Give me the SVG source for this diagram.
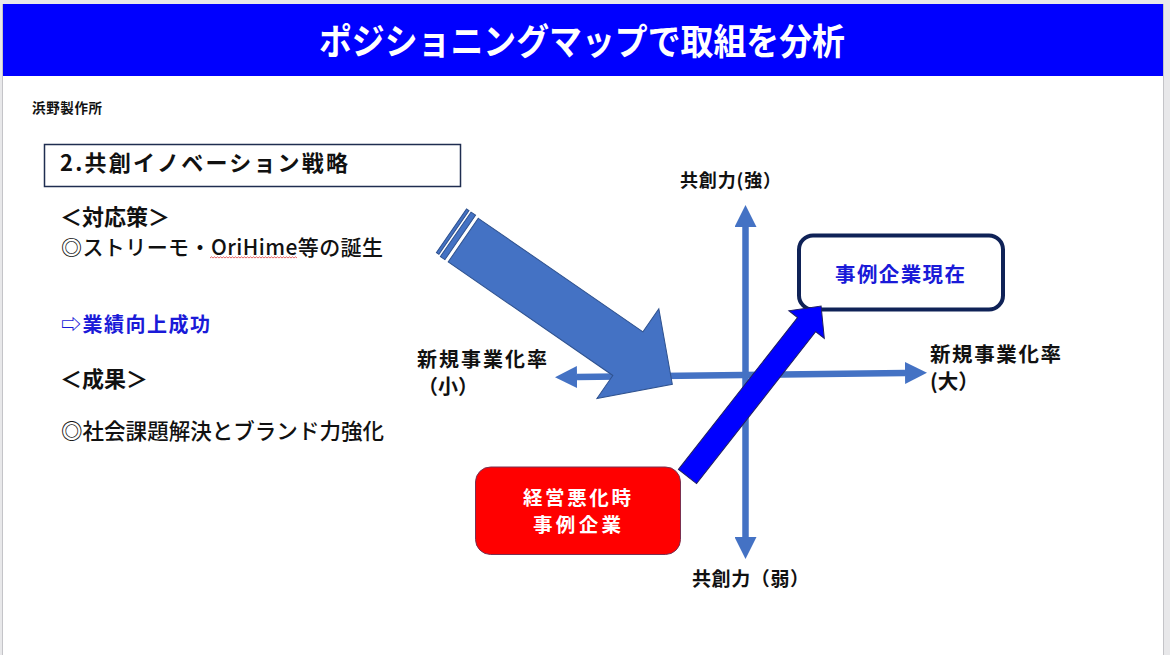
<svg xmlns="http://www.w3.org/2000/svg" width="1170" height="655" viewBox="0 0 1170 655">
<style>
.jp{font-family:"Noto Sans CJK JP","Noto Sans",sans-serif;fill:#111}
.b{font-weight:700}
.m{font-weight:500}
.axis{stroke:#4472c4;stroke-width:6.5;fill:none}
</style>
<defs>
<marker id="ah" viewBox="0 0 22 22" refX="0" refY="11" markerWidth="22" markerHeight="22" markerUnits="userSpaceOnUse" orient="auto-start-reverse">
<path d="M0,0 L22,11 L0,22 z" fill="#4472c4"/>
</marker>
</defs>
<rect x="0" y="0" width="1170" height="655" fill="#e8e8ea"/>
<rect x="3" y="4" width="1160" height="651" fill="#ffffff"/>
<line x1="1163.5" y1="4" x2="1163.5" y2="655" stroke="#c4c4c8" stroke-width="1"/>
<line x1="2.5" y1="4" x2="2.5" y2="655" stroke="#c4c4c8" stroke-width="1"/>
<g id="title">
<rect x="3" y="4" width="1160" height="72" fill="#0000ff"/>
<text x="319" y="55" class="jp b" style="fill:#fff" font-size="36" textLength="526" lengthAdjust="spacingAndGlyphs">ポジショニングマップで取組を分析</text>
</g>
<g id="company"><text x="32" y="113" class="jp b" font-size="13.5" textLength="70">浜野製作所</text></g>
<g id="heading">
<rect x="44.5" y="144.5" width="416" height="42" fill="#fff" stroke="#1f2d50" stroke-width="1.5"/>
<text x="60" y="170.5" class="jp b" font-size="22" textLength="288">2.共創イノベーション戦略</text>
</g>
<g id="left-text">
<text x="60" y="225" class="jp b" font-size="22">＜対応策＞</text>
<text x="61" y="255" class="jp m" font-size="21" textLength="322">◎ストリーモ・OriHime等の誕生</text>
<polyline points="210,258 211.5,256.8 213,258 214.5,256.8 216,258 217.5,256.8 219,258 220.5,256.8 222,258 223.5,256.8 225,258 226.5,256.8 228,258 229.5,256.8 231,258 232.5,256.8 234,258 235.5,256.8 237,258 238.5,256.8 240,258 241.5,256.8 243,258 244.5,256.8 246,258 247.5,256.8 249,258 250.5,256.8 252,258 253.5,256.8 255,258 256.5,256.8 258,258 259.5,256.8 261,258 262.5,256.8 264,258 265.5,256.8 267,258 268.5,256.8 270,258 271.5,256.8 273,258 274.5,256.8 276,258 277.5,256.8 279,258 280.5,256.8 282,258 283.5,256.8 285,258 286.5,256.8 288,258 289.5,256.8 291,258 292.5,256.8 294,258 295.5,256.8 297,258" fill="none" stroke="#e04040" stroke-width="0.8"/>
<text x="61" y="332" class="jp b" font-size="20" style="fill:#1a1ad8" textLength="149">⇨業績向上成功</text>
<text x="60" y="387" class="jp b" font-size="22">＜成果＞</text>
<text x="61" y="438.5" class="jp m" font-size="21.5" textLength="323">◎社会課題解決とブランド力強化</text>
</g>
<g id="connectors">
<line class="axis" x1="745.5" y1="227" x2="745.5" y2="537" marker-start="url(#ah)" marker-end="url(#ah)"/>
<line class="axis" x1="577" y1="377" x2="905" y2="373" marker-start="url(#ah)" marker-end="url(#ah)"/>
</g>
<g id="axis-labels">
<text x="680" y="187" class="jp b" font-size="18" textLength="101">共創力(強）</text>
<text x="692" y="586" class="jp b" font-size="19" textLength="117">共創力（弱）</text>
<text x="417" y="367" class="jp b" font-size="20" textLength="130">新規事業化率</text>
<text x="418" y="393.5" class="jp b" font-size="20">（小）</text>
<text x="930" y="361.5" class="jp b" font-size="20.5" textLength="131">新規事業化率</text>
<text x="930" y="389" class="jp b" font-size="20.5">(大）</text>
</g>
<g id="big-arrow" transform="translate(478.3,218.3) rotate(34.6)" fill="#4472c4" stroke="#2f528f" stroke-width="1">
<rect x="-15" y="-1" width="3" height="53"/>
<rect x="-9.5" y="-1" width="5.5" height="54"/>
<polygon points="0,0 200,0 200,-28 254,26.5 200,81 200,53 0,53"/>
</g>
<g id="node-current">
<rect x="799" y="235.5" width="204" height="74" rx="14" fill="#fff" stroke="#0f2257" stroke-width="4"/>
<text x="835" y="282" class="jp b" font-size="20.5" textLength="130" style="fill:#1a1ad8">事例企業現在</text>
</g>
<g id="node-crisis">
<rect x="475.5" y="467" width="205" height="87.5" rx="15" fill="#ff0000" stroke="#7a3050" stroke-width="1"/>
<text x="523" y="505" class="jp b" font-size="19.5" textLength="108" style="fill:#fff">経営悪化時</text>
<text x="533" y="531.5" class="jp b" font-size="19.5" textLength="88" style="fill:#fff">事例企業</text>
</g>
<g id="progress-arrow" transform="translate(687.5,476.5) rotate(-51.9)">
<polygon points="0,-11.5 193,-11.5 193,-22.5 216.5,0 193,22.5 193,11.5 0,11.5" fill="#0000ff" stroke="#1f2060" stroke-width="1"/>
</g>
</svg>
